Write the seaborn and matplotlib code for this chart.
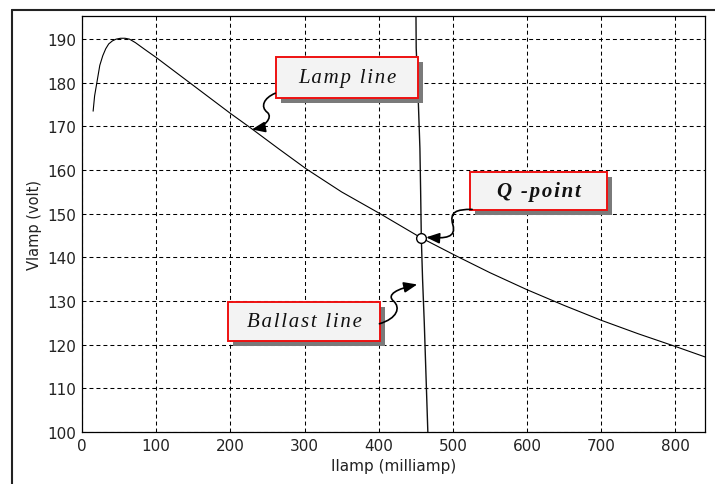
import matplotlib
matplotlib.use("Agg")
import matplotlib.pyplot as plt
import matplotlib.patheffects as pe
from matplotlib.patches import Rectangle, FancyArrowPatch
from matplotlib.path import Path
from matplotlib.lines import Line2D
import seaborn as sns
import pandas as pd

# ---- data ----
lamp_current = [15, 17, 20, 24, 28, 32, 36, 41, 46, 52, 58, 64, 72, 85, 100, 125, 150, 175, 200,
                227, 265, 303, 350, 402, 457, 505, 550, 600, 650, 700, 750, 800, 840]
lamp_voltage = [173.5, 177.0, 180.0, 184.0, 186.2, 187.8, 188.9, 189.6, 190.0, 190.2, 190.2, 190.0,
                189.2, 187.6, 185.8, 182.6, 179.4, 176.2, 173.0, 169.7, 164.9, 160.2, 155.0, 150.0,
                144.5, 140.3, 136.5, 132.6, 129.0, 125.6, 122.5, 119.6, 117.2]

ballast_current = [450.3, 450.6, 453.4, 455.6, 456.6, 457.5, 459.2, 461.5, 464.0, 466.3]
ballast_voltage = [195.5, 188.0, 176.0, 165.0, 155.0, 144.5, 135.0, 125.0, 112.0, 100.0]

q_current = [457.5]
q_voltage = [144.5]

x_ticks = [0, 100, 200, 300, 400, 500, 600, 700, 800]
y_ticks = [100, 110, 120, 130, 140, 150, 160, 170, 180, 190]

x_label = "Ilamp (milliamp)"
y_label = "Vlamp (volt)"

# annotation boxes: (label, x0, x1, y0, y1, bold)
box_labels = ["Lamp line", "Q -point", "Ballast line"]
box_x0 = [261.4, 523.6, 197.4]
box_x1 = [453.0, 708.0, 401.2]
box_y0 = [176.6, 150.8, 120.8]
box_y1 = [185.8, 159.6, 129.7]
box_bold = [False, True, False]

# squiggly arrows (start, ctrl, ctrl, mid, ctrl, ctrl, end) in data coords
arrow_paths = [
    [(260.5, 177.6), (245, 176.5), (240, 174.5), (250, 173.2), (258, 172.0), (245, 169.8), (229, 169.3)],
    [(526.0, 151.0), (505, 151.0), (495, 150.5), (500, 147.5), (505, 144.5), (490, 144.3), (464, 144.6)],
    [(401.0, 124.8), (425, 126.0), (430, 128.5), (420, 130.0), (410, 131.5), (425, 132.8), (452, 133.8)],
]

# ---- figure ----
sns.set_theme(style="white")
plt.rcParams["font.family"] = ["DejaVu Sans"]

fig = plt.figure(figsize=(7.15, 4.85), dpi=100)
ax = fig.add_axes([82 / 715, 52 / 485, 623 / 715, 416 / 485])

lamp_df = pd.DataFrame({"I": lamp_current, "V": lamp_voltage})
ballast_df = pd.DataFrame({"I": ballast_current, "V": ballast_voltage})

sns.lineplot(data=lamp_df, x="I", y="V", sort=False, estimator=None, color="black",
             linewidth=0.8, ax=ax, zorder=3)
sns.lineplot(data=ballast_df, x="I", y="V", sort=False, estimator=None, color="#111111",
             linewidth=1.0, ax=ax, zorder=3)
ax.plot(q_current, q_voltage, marker="o", markersize=7, markerfacecolor="white",
        markeredgecolor="black", markeredgewidth=1.0, linestyle="none", zorder=6)

ax.set_xlim(0, 840)
ax.set_ylim(100, 195.3)
ax.set_xticks(x_ticks)
ax.set_yticks(y_ticks)
ax.tick_params(direction="in", length=4, width=0.8, colors="black", labelsize=11,
               pad=4, labelcolor="#222222")
ax.grid(True, color="black", linestyle=(0, (3.8, 2.9)), linewidth=0.75)
for s in ax.spines.values():
    s.set_visible(True)
    s.set_color("black")
    s.set_linewidth(0.9)
ax.set_xlabel(x_label, fontsize=11, color="#222222", labelpad=4)
ax.set_ylabel(y_label, fontsize=10.5, color="#222222", labelpad=4)

# boxes
serif = ["Liberation Serif", "DejaVu Serif"]
for lab, x0, x1, y0, y1, bold in zip(box_labels, box_x0, box_x1, box_y0, box_y1, box_bold):
    r = Rectangle((x0, y0), x1 - x0, y1 - y0, facecolor="#f3f3f3", edgecolor="#ee1111",
                  linewidth=1.4, zorder=7)
    r.set_path_effects([pe.SimplePatchShadow(offset=(3.6, -3.6), shadow_rgbFace="#7a7a7a", alpha=1.0),
                        pe.Normal()])
    ax.add_patch(r)
    spaced = "\u200a".join(lab)
    ax.text((x0 + x1) / 2, (y0 + y1) / 2, spaced, ha="center", va="center",
            fontsize=15, style="italic", weight="bold" if bold else "normal",
            family=serif, color="#111111", zorder=8)

for pts in arrow_paths:
    codes = [Path.MOVETO] + [Path.CURVE4] * 6
    path = Path(pts, codes)
    arr = FancyArrowPatch(path=path, arrowstyle="-|>,head_length=8,head_width=3.2",
                          color="black", linewidth=1.2, zorder=9, mutation_scale=1)
    ax.add_patch(arr)

# outer frame
fig.add_artist(Line2D([12 / 715, 12 / 715], [0, 1 - 11 / 485], transform=fig.transFigure,
                      color="#222222", linewidth=1.5))
fig.add_artist(Line2D([12 / 715, 1], [1 - 11 / 485, 1 - 11 / 485], transform=fig.transFigure,
                      color="#222222", linewidth=1.5))

fig.savefig("out.png", dpi=100)
